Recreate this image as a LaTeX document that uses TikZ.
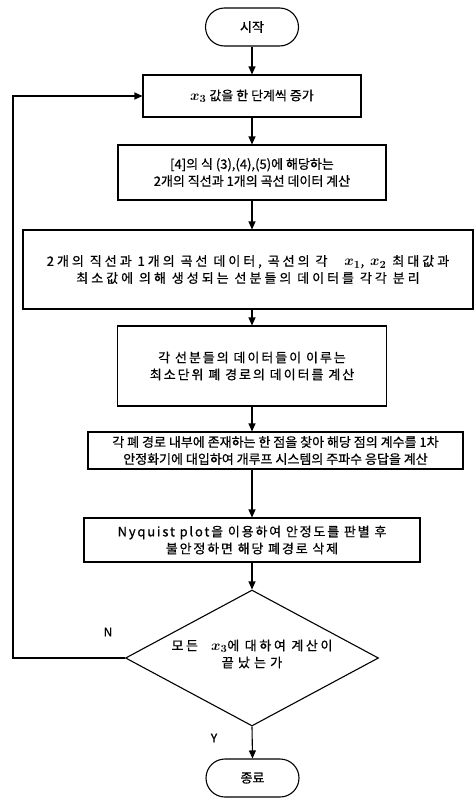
\documentclass[tikz,border=0pt]{standalone}
\usepackage{fontspec}
\setmainfont{Noto Sans CJK KR}[FakeBold=0.7]
\usetikzlibrary{shapes.geometric,arrows.meta}
\newcommand{\xvar}[1]{{\fontsize{15.5}{17}\selectfont\boldmath$x_{#1}$}}
\begin{document}
\begin{tikzpicture}[x=1pt,y=-1pt,
  txt/.style={font=\fontsize{13}{17}\selectfont},
  sp/.style={font=\fontsize{13}{17}\selectfont\addfontfeatures{LetterSpace=#1}},
  box/.style={draw, line width=1.1pt, inner sep=0pt, align=center, txt},
  term/.style={draw, line width=1.1pt, rounded corners=19pt, minimum width=93pt, minimum height=38pt, inner sep=0pt, txt},
  flow/.style={line width=1.1pt, -{Triangle[length=8pt,width=7pt]}},
  lbl/.style={font=\fontsize{12}{14}\selectfont}]
\useasboundingbox (0,0) rectangle (475,798);
\node[term] (start) at (252,27) {시작};
\node[box, minimum width=218pt, minimum height=42pt] (b1) at (252,96) {\xvar{3} 값을 한 단계씩 증가};
\node[box, minimum width=268pt, minimum height=55pt] (b2) at (252,172.5) {[4]의 식 (3),(4),(5)에 해당하는\\2개의 직선과 1개의 곡선 데이터 계산};
\node[box, sp=23, minimum width=450pt, minimum height=79pt] (b3) at (248,269.5) {2개의 직선과 1개의 곡선 데이터, 곡선의 각\hspace{1.3em}\xvar{1}, \xvar{2} 최대값과\\최소값에 의해 생성되는 선분들의 데이터를 각각 분리};
\node[box, sp=15, minimum width=269pt, minimum height=80pt] (b4) at (252,366) {각 선분들의 데이터들이 이루는\\최소단위 폐 경로의 데이터를 계산};
\node[box, minimum width=375pt, minimum height=37pt] (b5) at (275.5,450.5) {각 폐 경로 내부에 존재하는 한 점을 찾아 해당 점의 계수를 1차\\안정화기에 대입하여 개루프 시스템의 주파수 응답을 계산};
\node[box, sp=14, minimum width=336pt, minimum height=44pt] (b6) at (252,540) {Nyquist plot을 이용하여 안정도를 판별 후\\불안정하면 해당 폐경로 삭제};
\node[diamond, draw, line width=1.1pt, minimum width=253pt, minimum height=136pt, inner sep=0pt] (dec) at (252,658) {};
\node[sp=20, align=center] (dectext) at (252,654) {모든\quad \xvar{3}에 대하여 계산이\\{\addfontfeatures{LetterSpace=32}끝났는가}};
\node[term] (end) at (252.5,778) {종료};
\node[lbl] (nlab) at (108,632) {N};
\node[lbl] (ylab) at (214,738) {Y};
\coordinate (lp) at (13,658);
\draw[flow] (start.south) -- (b1.north);
\draw[flow] (b1.south) -- (b2.north);
\draw[flow] (b2.south) -- (b2.south |- b3.north);
\draw[flow] (b4.north |- b3.south) -- (b4.north);
\draw[flow] (b4.south) -- (b4.south |- b5.north);
\draw[flow] (b6.north |- b5.south) -- (b6.north);
\draw[flow] (b6.south) -- (dec.north);
\draw[flow] (dec.south) -- (end.north);
\draw[flow] (dec.west) -- (lp) |- (b1.west);
\end{tikzpicture}
\end{document}
